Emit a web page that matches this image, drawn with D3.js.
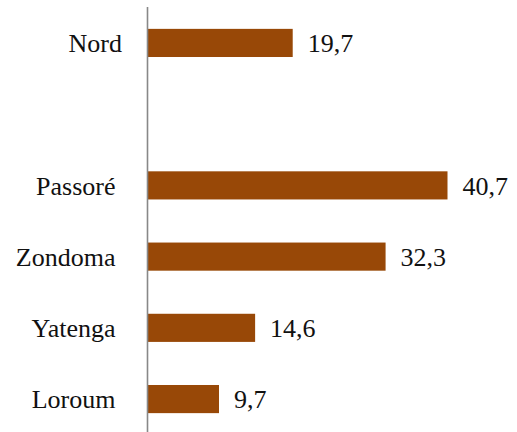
<html>
<head>
  <meta charset="UTF-8" />
  <title>Barres horizontales</title>
  <style>
    body { margin: 0; background: #fff; }
    svg { display: block; }
    svg text { font-family: "Liberation Serif", serif !important; }
    .axis-line { stroke: #888; stroke-width: 1.6px; }
  </style>
</head>
<body>
  <svg width="517" height="432"></svg>

  <script src="https://d3js.org/d3.v7.min.js"></script>
  <script>
    // rows top to bottom; the empty slot separates the region from its provinces
    const categories = ["Nord", "", "Passoré", "Zondoma", "Yatenga", "Loroum"];
    const values = [19.7, null, 40.7, 32.3, 14.6, 9.7];

    const font = "Liberation Serif";
    const svg = d3.select("svg");
    const x0 = 147.5;

    const x = d3.scaleLinear()
      .domain([0, 40.7])
      .range([x0, x0 + 300]);

    const y = d3.scaleBand()
      .domain(d3.range(categories.length))
      .range([7.5, 434.5])
      .paddingInner(0.605)
      .paddingOuter(0.3);

    const rows = categories.map((c, i) => ({ cat: c, value: values[i], i }));

    svg.append("g")
      .selectAll("rect")
      .data(rows.filter(d => d.value != null))
      .join("rect")
      .attr("x", x(0))
      .attr("y", d => y(d.i))
      .attr("width", d => x(d.value) - x(0))
      .attr("height", y.bandwidth())
      .attr("fill", "#984807");

    svg.append("line")
      .attr("class", "axis-line")
      .attr("x1", x0).attr("x2", x0)
      .attr("y1", 7).attr("y2", 432);

    // category labels
    svg.append("g")
      .selectAll("text")
      .data(rows.filter(d => d.cat))
      .join("text")
      .attr("font-family", font)
      .style("font-family", font, "important")
      .attr("font-size", 26)
      .attr("fill", "#111")
      .attr("x", d => d.i === 0 ? 122 : 115.5)
      .attr("y", d => y(d.i) + y.bandwidth() / 2)
      .attr("dy", "0.36em")
      .attr("text-anchor", "end")
      .text(d => d.cat);

    // value labels
    const fmt = v => d3.format(".1f")(v).replace(".", ",");
    svg.append("g")
      .selectAll("text")
      .data(rows.filter(d => d.value != null))
      .join("text")
      .attr("font-family", font)
      .style("font-family", font, "important")
      .attr("font-size", 26)
      .attr("fill", "#111")
      .attr("x", d => x(d.value) + 15)
      .attr("y", d => y(d.i) + y.bandwidth() / 2)
      .attr("dy", "0.36em")
      .text(d => fmt(d.value));
  </script>
</body>
</html>
